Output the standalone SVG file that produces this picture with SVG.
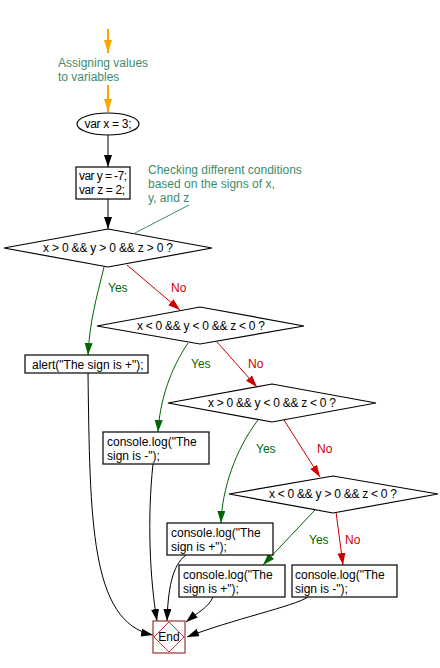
<svg xmlns="http://www.w3.org/2000/svg" width="440" height="668" viewBox="0 0 440 668">
<style>
text{font-family:"Liberation Sans",Arial,sans-serif;font-size:12px;fill:#000}
.box{fill:#fff;stroke:#000;stroke-width:1.2}
.c{fill:#3c8c6e}
.y{fill:#006600}
.n{fill:#cc0000}
.lg{fill:none;stroke:#006600;stroke-width:1;marker-end:url(#ag)}
.lr{fill:none;stroke:#cc0000;stroke-width:1;marker-end:url(#ar)}
.lk{fill:none;stroke:#000;stroke-width:1;marker-end:url(#ak)}
.lo{fill:none;stroke:#ffa500;stroke-width:2;marker-end:url(#ao)}
</style>
<defs>
<marker id="ak" markerUnits="userSpaceOnUse" markerWidth="14" markerHeight="10" refX="12" refY="4" orient="auto"><path d="M0,0 L12,4 L0,8 z" fill="#000"/></marker>
<marker id="ag" markerUnits="userSpaceOnUse" markerWidth="14" markerHeight="10" refX="12" refY="4" orient="auto"><path d="M0,0 L12,4 L0,8 z" fill="#006600"/></marker>
<marker id="ar" markerUnits="userSpaceOnUse" markerWidth="14" markerHeight="10" refX="12" refY="4" orient="auto"><path d="M0,0 L12,4 L0,8 z" fill="#cc0000"/></marker>
<marker id="ao" markerUnits="userSpaceOnUse" markerWidth="16" markerHeight="10" refX="13" refY="4" orient="auto"><path d="M0,0 L13,4 L0,8 z" fill="#ffa500"/></marker>
</defs>
<g id="connectors">
<path class="lo" d="M108,29 L108,53"/>
<path class="lo" d="M108,85 L108,112"/>
<path class="lk" d="M108,135 L108,167"/>
<path class="lk" d="M108,199 L108,229"/>
<path d="M189,205 L135,233" fill="none" stroke="#3c8c6e" stroke-width="1"/>
<path class="lg" d="M104,267 C 96,300 90,320 88,355"/>
<path class="lr" d="M127,265 L180,310"/>
<path class="lg" d="M188,343 C 170,370 160,400 158,432"/>
<path class="lr" d="M217,342 L257,387"/>
<path class="lg" d="M258,420 C 235,450 222,490 221,523"/>
<path class="lr" d="M284,420 L320,477"/>
<path class="lg" d="M315,510 L263,565"/>
<path class="lr" d="M336,512 L343,565"/>
<path class="lk" d="M88,373 C 90,520 90,622 153,635"/>
<path class="lk" d="M153,464 C 147,520 150,580 157,621"/>
<path class="lk" d="M186,555 C 172,565 168,590 167,621"/>
<path class="lk" d="M213,597 C 208,608 198,612 186,622"/>
<path class="lk" d="M308,597 C 295,606 230,620 187,637"/>
<text class="y" x="108" y="292">Yes</text>
<text class="n" x="171" y="292">No</text>
<text class="y" x="191" y="368">Yes</text>
<text class="n" x="248" y="368">No</text>
<text class="y" x="256" y="453">Yes</text>
<text class="n" x="317" y="453">No</text>
<text class="y" x="309" y="544">Yes</text>
<text class="n" x="345" y="544">No</text>
</g>
<g id="comment1">
<text class="c" x="58" y="67">Assigning values</text>
<text class="c" x="58" y="81">to variables</text>
</g>
<g id="comment2">
<text class="c" x="148" y="174">Checking different conditions</text>
<text class="c" x="148" y="188">based on the signs of x,</text>
<text class="c" x="148" y="202">y, and z</text>
</g>
<g id="start">
<ellipse class="box" cx="108" cy="124" rx="31" ry="11"/>
<text x="108" y="128" text-anchor="middle" textLength="47" lengthAdjust="spacing">var x = 3;</text>
</g>
<g id="vars">
<rect class="box" x="76" y="167" width="54" height="32"/>
<text x="79" y="180" textLength="48" lengthAdjust="spacing">var y = -7;</text>
<text x="79" y="194" textLength="46" lengthAdjust="spacing">var z = 2;</text>
</g>
<g id="cond1">
<polygon class="box" points="4,248 108,229 212,248 108,267"/>
<text x="108" y="252" text-anchor="middle" textLength="130" lengthAdjust="spacing">x &gt; 0 &amp;&amp; y &gt; 0 &amp;&amp; z &gt; 0 ?</text>
</g>
<g id="alert">
<rect class="box" x="25" y="355" width="123" height="18"/>
<text x="32" y="369">alert("The sign is +");</text>
</g>
<g id="cond2">
<polygon class="box" points="97,326 200,307 304,326 200,344"/>
<text x="201" y="330" text-anchor="middle" textLength="128" lengthAdjust="spacing">x &lt; 0 &amp;&amp; y &lt; 0 &amp;&amp; z &lt; 0 ?</text>
</g>
<g id="log1">
<rect class="box" x="103" y="432" width="106" height="32"/>
<text x="107" y="446">console.log("The</text>
<text x="107" y="460">sign is -");</text>
</g>
<g id="cond3">
<polygon class="box" points="168,403 272,384 376,403 272,422"/>
<text x="272" y="407" text-anchor="middle" textLength="128" lengthAdjust="spacing">x &gt; 0 &amp;&amp; y &lt; 0 &amp;&amp; z &lt; 0 ?</text>
</g>
<g id="log2">
<rect class="box" x="167" y="523" width="106" height="32"/>
<text x="171" y="537">console.log("The</text>
<text x="171" y="551">sign is +");</text>
</g>
<g id="cond4">
<polygon class="box" points="229,494 333,476 438,494 333,513"/>
<text x="333" y="498" text-anchor="middle" textLength="128" lengthAdjust="spacing">x &lt; 0 &amp;&amp; y &gt; 0 &amp;&amp; z &lt; 0 ?</text>
</g>
<g id="log3">
<rect class="box" x="179" y="565" width="106" height="32"/>
<text x="183" y="579">console.log("The</text>
<text x="183" y="593">sign is +");</text>
</g>
<g id="log4">
<rect class="box" x="292" y="565" width="105" height="32"/>
<text x="295" y="579">console.log("The</text>
<text x="295" y="593">sign is -");</text>
</g>
<g id="end">
<rect x="153" y="621" width="32" height="32" fill="#fff" stroke="#993333" stroke-width="1.2"/>
<polygon points="169,622 184,637 169,652 154,637" fill="none" stroke="#cc3333" stroke-width="1"/>
<text x="169" y="641" text-anchor="middle">End</text>
</g>
</svg>
